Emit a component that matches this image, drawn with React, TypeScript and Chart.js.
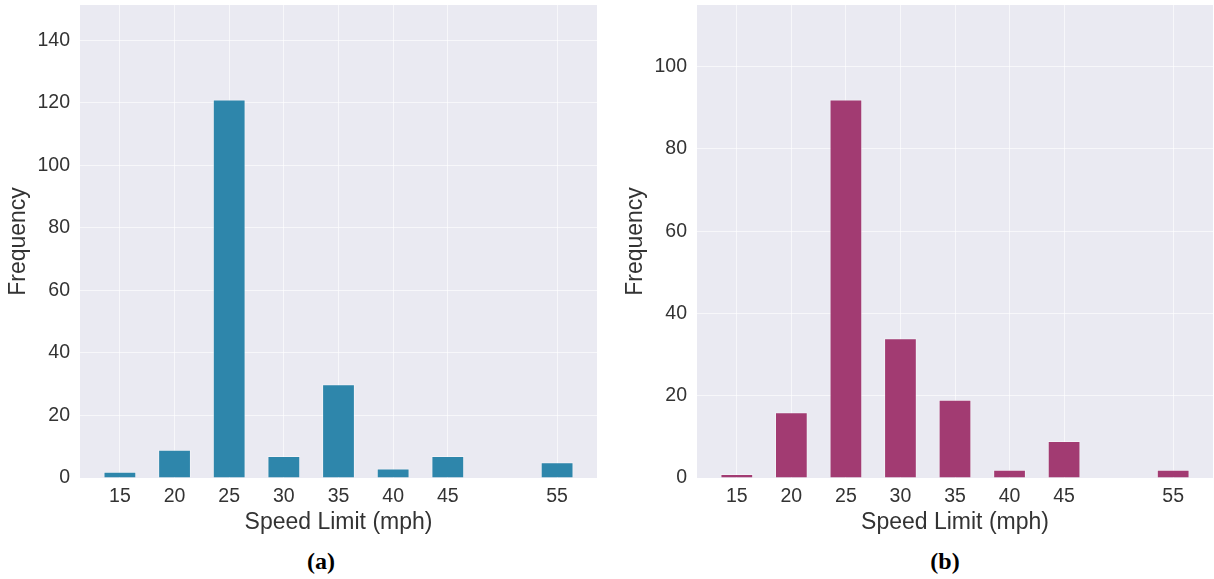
import React, { useEffect, useRef } from "react";
import { Chart, registerables } from "chart.js";

Chart.register(...registerables);

const speeds = [15, 20, 25, 30, 35, 40, 45, 55];
const freqA = [2, 9, 121, 7, 30, 3, 7, 5];
const freqB = [1, 16, 92, 34, 19, 2, 9, 2];
const xTicks = [15, 20, 25, 30, 35, 40, 45, 55];
const yTicksA = [0, 20, 40, 60, 80, 100, 120, 140];
const yTicksB = [0, 20, 40, 60, 80, 100];
const colorA = "#2E86AB";
const colorB = "#A23B72";

const FONT = "'Liberation Sans', Arial, sans-serif";
const GRID = "rgba(255,255,255,0.6)";

const bgPlugin = {
  id: "plotBg",
  beforeDraw(chart: any) {
    const { ctx, chartArea } = chart;
    if (!chartArea) return;
    ctx.save();
    ctx.fillStyle = "#EAEAF2";
    ctx.fillRect(chartArea.left, chartArea.top, chartArea.right - chartArea.left, chartArea.bottom - chartArea.top);
    ctx.restore();
  },
};

function makeConfig(values: number[], color: string, yTicks: number[], yMax: number) {
  return {
    type: "bar" as const,
    data: {
      datasets: [
        {
          data: speeds.map((s, i) => ({ x: s, y: values[i] })),
          backgroundColor: color,
          borderColor: "rgba(255,255,255,0.4)",
          borderWidth: 1,
          barPercentage: 1,
          categoryPercentage: 0.6,
        },
      ],
    },
    options: {
      responsive: false,
      animation: false as const,
      devicePixelRatio: 1,
      layout: { padding: { top: 5, right: 1, bottom: 0, left: 0 } },
      plugins: { legend: { display: false }, tooltip: { enabled: false } },
      scales: {
        x: {
          type: "linear" as const,
          min: 11.35,
          max: 58.65,
          offset: false,
          border: { display: false },
          grid: { color: GRID, lineWidth: 1, drawTicks: false, offset: false },
          afterBuildTicks: (axis: any) => {
            axis.ticks = xTicks.map((v) => ({ value: v }));
          },
          afterFit: (scale: any) => {
            scale.height = 62;
            scale.paddingLeft = 0;
            scale.paddingRight = 0;
          },
          ticks: {
            autoSkip: false,
            maxRotation: 0,
            padding: 7,
            color: "#333333",
            font: { family: FONT, size: 19.5 },
          },
          title: {
            display: true,
            text: "Speed Limit (mph)",
            color: "#333333",
            font: { family: FONT, size: 23 },
            padding: { top: 0, bottom: 4 },
          },
        },
        y: {
          min: 0,
          max: yMax,
          border: { display: false },
          grid: { color: GRID, lineWidth: 1, drawTicks: false },
          afterBuildTicks: (axis: any) => {
            axis.ticks = yTicks.map((v) => ({ value: v }));
          },
          afterFit: (scale: any) => {
            scale.width = 80;
            scale.paddingTop = 0;
            scale.paddingBottom = 0;
          },
          ticks: {
            padding: 10,
            color: "#333333",
            font: { family: FONT, size: 19.5 },
          },
          title: {
            display: true,
            text: "Frequency",
            color: "#333333",
            font: { family: FONT, size: 23 },
            padding: { top: 5, bottom: 0 },
          },
        },
      },
    },
    plugins: [bgPlugin],
  };
}

function Panel(props: { values: number[]; color: string; yTicks: number[]; yMax: number; left: number; width: number }) {
  const ref = useRef<HTMLCanvasElement | null>(null);
  useEffect(() => {
    if (!ref.current) return;
    const chart = new Chart(ref.current, makeConfig(props.values, props.color, props.yTicks, props.yMax) as any);
    return () => chart.destroy();
  }, []);
  return (
    <canvas
      ref={ref}
      width={props.width}
      height={540}
      style={{ position: "absolute", left: props.left, top: 0, width: props.width, height: 540 }}
    />
  );
}

export default function App() {
  const caption: React.CSSProperties = {
    position: "absolute",
    top: 546,
    width: 100,
    textAlign: "center",
    fontFamily: "'Liberation Serif', 'Times New Roman', serif",
    fontWeight: "bold",
    fontSize: 24,
    lineHeight: "30px",
    color: "#000",
  };
  return (
    <div style={{ position: "absolute", left: 0, top: 0, width: 1214, height: 579, background: "#fff", overflow: "hidden" }}>
      <Panel values={freqA} color={colorA} yTicks={yTicksA} yMax={151.25} left={0} width={598} />
      <Panel values={freqB} color={colorB} yTicks={yTicksB} yMax={115} left={617} width={597} />
      <div style={{ ...caption, left: 271 }}>(a)</div>
      <div style={{ ...caption, left: 895 }}>(b)</div>
    </div>
  );
}
